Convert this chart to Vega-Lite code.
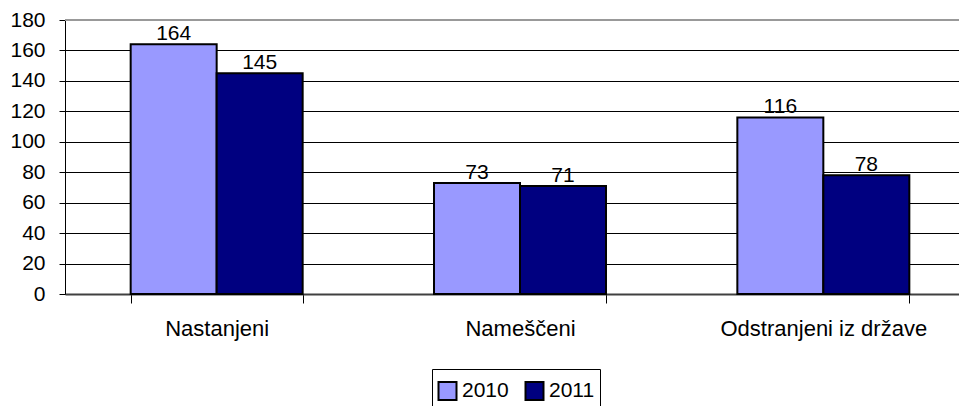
{
  "$schema": "https://vega.github.io/schema/vega-lite/v6.json",
  "width": 894,
  "height": 274,
  "autosize": {"type": "none"},
  "padding": {"left": 65, "top": 20, "right": 0, "bottom": 112},
  "background": "white",
  "config": {
    "font": "Liberation Sans",
    "view": {"stroke": null},
    "axis": {"labelColor": "black", "labelFont": "Liberation Sans"},
    "axisX": {
      "title": null,
      "labelAngle": 0,
      "labelFontSize": 22,
      "labelPadding": 15,
      "labelLimit": 400,
      "tickBand": "extent",
      "tickSize": 9,
      "tickColor": "black",
      "tickWidth": 1,
      "domainColor": "#404040",
      "domainWidth": 2
    },
    "axisY": {
      "title": null,
      "labelFontSize": 21,
      "labelPadding": 14,
      "labelOverlap": false,
      "tickSize": 6,
      "tickColor": "black",
      "domainColor": "black",
      "domainWidth": 1,
      "grid": true,
      "gridColor": "black",
      "gridWidth": 1,
      "gridOpacity": 1
    }
  },
  "datasets": {
    "main": [
      {"category": "Nastanjeni", "year": "2010", "value": 164},
      {"category": "Nastanjeni", "year": "2011", "value": 145},
      {"category": "Nameščeni", "year": "2010", "value": 73},
      {"category": "Nameščeni", "year": "2011", "value": 71},
      {"category": "Odstranjeni iz države", "year": "2010", "value": 116},
      {"category": "Odstranjeni iz države", "year": "2011", "value": 78}
    ],
    "border": [{"top": 180}]
  },
  "layer": [
    {
      "data": {"name": "main"},
      "mark": {"type": "bar", "stroke": "black", "strokeWidth": 2},
      "encoding": {
        "x": {
          "field": "category",
          "type": "nominal",
          "sort": null,
          "scale": {"range": [0, 910], "paddingInner": 0.433, "paddingOuter": 0.2165},
          "axis": {"labelLimit": 400}
        },
        "xOffset": {
          "field": "year",
          "type": "nominal",
          "scale": {"paddingInner": 0, "paddingOuter": 0}
        },
        "y": {
          "field": "value",
          "type": "quantitative",
          "scale": {"domain": [0, 180], "nice": false},
          "axis": {"values": [0, 20, 40, 60, 80, 100, 120, 140, 160, 180]}
        },
        "color": {
          "field": "year",
          "type": "nominal",
          "scale": {"domain": ["2010", "2011"], "range": ["#9999FF", "#000080"]},
          "legend": {
            "title": " ",
            "titleOrient": "right",
            "titleFontSize": 40,
            "titlePadding": 0,
            "titleBaseline": "top",
            "orient": "none",
            "direction": "horizontal",
            "legendX": 367,
            "legendY": 349,
            "padding": 5,
            "clipHeight": 34,
            "strokeColor": "black",
            "symbolType": "square",
            "symbolSize": 324,
            "symbolStrokeColor": "black",
            "symbolStrokeWidth": 2,
            "symbolOpacity": 1,
            "labelFontSize": 21,
            "labelColor": "black",
            "labelOffset": 4,
            "columnPadding": 15
          }
        }
      }
    },
    {
      "data": {"name": "main"},
      "mark": {"type": "text", "baseline": "alphabetic", "dy": -4, "fontSize": 21, "color": "black"},
      "encoding": {
        "x": {"field": "category", "type": "nominal", "sort": null, "axis": {"labelLimit": 400}},
        "xOffset": {"field": "year", "type": "nominal"},
        "y": {"field": "value", "type": "quantitative", "axis": {"values": [0, 20, 40, 60, 80, 100, 120, 140, 160, 180]}},
        "text": {"field": "value", "type": "quantitative"}
      }
    },
    {
      "data": {"name": "border"},
      "mark": {"type": "rule", "color": "#999999", "strokeWidth": 2},
      "encoding": {
        "y": {"field": "top", "type": "quantitative", "axis": {"values": [0, 20, 40, 60, 80, 100, 120, 140, 160, 180]}}
      }
    }
  ]
}
